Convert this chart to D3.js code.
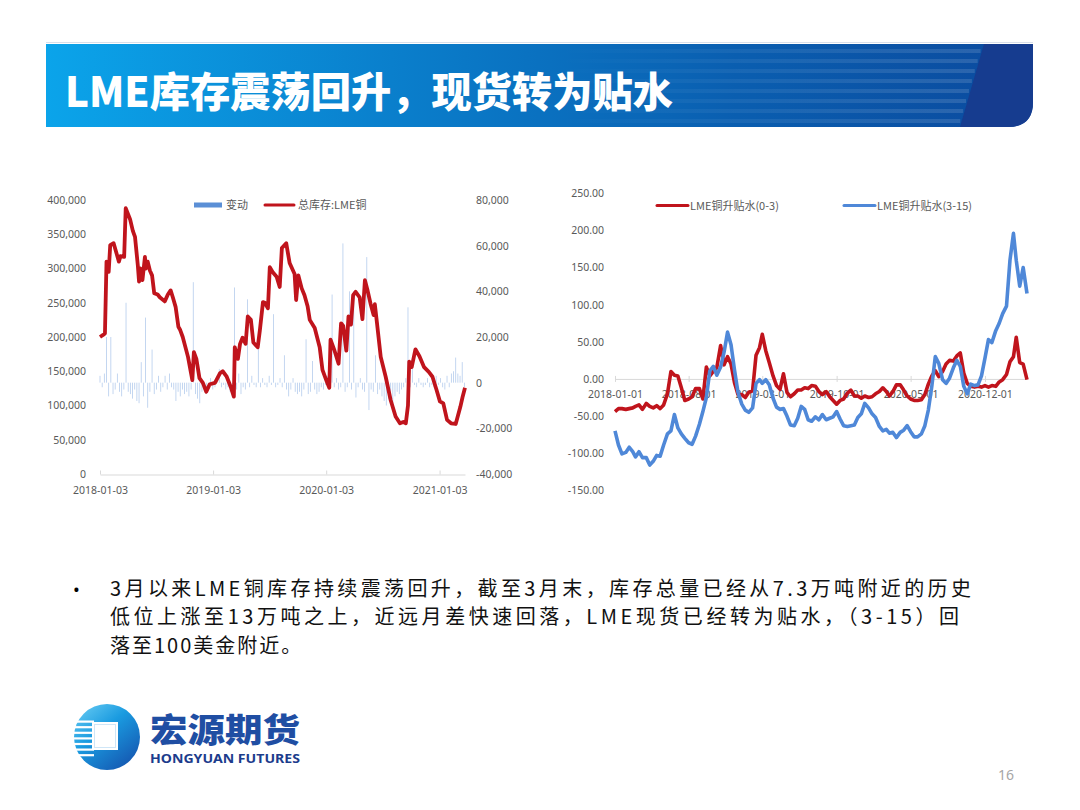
<!DOCTYPE html>
<html><head><meta charset="utf-8">
<script src="https://cdn.jsdelivr.net/npm/d3@7"></script>
<style>body{margin:0;background:#fff}svg{display:block}</style>
</head><body>
<svg id="s" width="1080" height="810"></svg>
<script>
// ---------------- DATA ----------------
const titleText = "LME库存震荡回升，现货转为贴水";
const leftLegend = ["变动", "总库存:LME铜"];
const rightLegend = ["LME铜升贴水(0-3)", "LME铜升贴水(3-15)"];
const invTicks = [0,50000,100000,150000,200000,250000,300000,350000,400000];
const chgTicks = [-40000,-20000,0,20000,40000,60000,80000];
const invXTicks = ["2018-01-03","2019-01-03","2020-01-03","2021-01-03"];
const spreadYTicks = [-150,-100,-50,0,50,100,150,200,250];
const spreadXTicks = ["2018-01-01","2018-08-01","2019-03-01","2019-10-01","2020-05-01","2020-12-01"];

// total stock LME copper (tonnes)
const invDates = ["2018-01-03","2018-01-13","2018-01-19","2018-01-24","2018-01-31","2018-02-05","2018-02-16","2018-03-05","2018-03-10","2018-03-22","2018-03-27","2018-04-03","2018-04-10","2018-04-19","2018-04-26","2018-05-05","2018-05-09","2018-05-13","2018-05-20","2018-05-28","2018-05-31","2018-06-06","2018-06-13","2018-06-20","2018-06-27","2018-07-08","2018-07-15","2018-07-31","2018-08-10","2018-08-19","2018-08-26","2018-09-04","2018-09-13","2018-09-18","2018-09-27","2018-10-14","2018-10-28","2018-11-02","2018-11-10","2018-11-20","2018-12-01","2018-12-12","2018-12-23","2019-01-09","2019-01-25","2019-02-03","2019-02-16","2019-03-01","2019-03-11","2019-03-14","2019-03-24","2019-03-31","2019-04-08","2019-04-18","2019-04-25","2019-05-05","2019-05-13","2019-05-27","2019-06-03","2019-06-13","2019-06-19","2019-06-29","2019-07-05","2019-07-14","2019-07-27","2019-08-06","2019-08-13","2019-08-27","2019-09-07","2019-09-23","2019-09-28","2019-10-05","2019-10-16","2019-10-25","2019-11-04","2019-11-11","2019-11-27","2019-12-13","2019-12-22","2020-01-04","2020-01-13","2020-01-17","2020-01-30","2020-02-12","2020-02-20","2020-02-27","2020-03-08","2020-03-15","2020-03-23","2020-03-30","2020-04-07","2020-04-20","2020-04-29","2020-05-07","2020-05-15","2020-05-25","2020-06-04","2020-06-08","2020-06-15","2020-06-27","2020-07-13","2020-07-29","2020-08-14","2020-08-28","2020-09-08","2020-09-16","2020-09-23","2020-09-27","2020-10-05","2020-10-17","2020-10-30","2020-11-14","2020-11-29","2020-12-11","2020-12-24","2021-01-04","2021-01-15","2021-01-27","2021-02-09","2021-02-24","2021-03-11","2021-03-18","2021-03-26"];
const invValues = [200000,203000,205000,310000,295000,334000,337000,310000,318000,317000,388000,380000,372000,355000,346000,305000,281000,300000,283000,317000,300000,310000,297000,290000,264000,262000,258000,252000,262000,268000,258000,244000,215000,211000,200000,171000,137000,178000,168000,140000,133000,120000,131000,133000,147000,150000,142000,127000,113000,185000,168000,190000,199000,190000,230000,225000,192000,185000,210000,251000,250000,242000,302000,295000,288000,273000,330000,337000,308000,292000,254000,290000,271000,261000,245000,225000,213000,185000,152000,136000,126000,196000,180000,161000,220000,216000,180000,230000,218000,261000,266000,258000,226000,283000,269000,249000,232000,248000,220000,171000,142000,108000,84000,74000,76000,74000,100000,164000,156000,182000,172000,156000,149000,142000,123000,106000,103000,79000,74000,73000,98000,112000,126000];

// weekly changes (tonnes)
const chgDates = ["2018-01-03","2018-01-10","2018-01-17","2018-01-24","2018-01-31","2018-02-07","2018-02-14","2018-02-21","2018-02-28","2018-03-07","2018-03-14","2018-03-21","2018-03-28","2018-04-04","2018-04-11","2018-04-18","2018-04-25","2018-05-02","2018-05-09","2018-05-16","2018-05-23","2018-05-30","2018-06-06","2018-06-13","2018-06-20","2018-06-27","2018-07-04","2018-07-11","2018-07-18","2018-07-25","2018-08-01","2018-08-08","2018-08-15","2018-08-22","2018-08-29","2018-09-05","2018-09-12","2018-09-19","2018-09-26","2018-10-03","2018-10-10","2018-10-17","2018-10-24","2018-10-31","2018-11-07","2018-11-14","2018-11-21","2018-11-28","2018-12-05","2018-12-12","2018-12-19","2018-12-26",
"2019-01-02","2019-01-09","2019-01-16","2019-01-23","2019-01-30","2019-02-06","2019-02-13","2019-02-20","2019-02-27","2019-03-06","2019-03-13","2019-03-20","2019-03-27","2019-04-03","2019-04-10","2019-04-17","2019-04-24","2019-05-01","2019-05-08","2019-05-15","2019-05-22","2019-05-29","2019-06-05","2019-06-12","2019-06-19","2019-06-26","2019-07-03","2019-07-10","2019-07-17","2019-07-24","2019-07-31","2019-08-07","2019-08-14","2019-08-21","2019-08-28","2019-09-04","2019-09-11","2019-09-18","2019-09-25","2019-10-02","2019-10-09","2019-10-16","2019-10-23","2019-10-30","2019-11-06","2019-11-13","2019-11-20","2019-11-27","2019-12-04","2019-12-11","2019-12-18","2019-12-25",
"2020-01-01","2020-01-08","2020-01-15","2020-01-22","2020-01-29","2020-02-05","2020-02-12","2020-02-19","2020-02-26","2020-03-04","2020-03-11","2020-03-18","2020-03-25","2020-04-01","2020-04-08","2020-04-15","2020-04-22","2020-04-29","2020-05-06","2020-05-13","2020-05-20","2020-05-27","2020-06-03","2020-06-10","2020-06-17","2020-06-24","2020-07-01","2020-07-08","2020-07-15","2020-07-22","2020-07-29","2020-08-05","2020-08-12","2020-08-19","2020-08-26","2020-09-02","2020-09-09","2020-09-16","2020-09-23","2020-09-30","2020-10-07","2020-10-14","2020-10-21","2020-10-28","2020-11-04","2020-11-11","2020-11-18","2020-11-25","2020-12-02","2020-12-09","2020-12-16","2020-12-23","2020-12-30",
"2021-01-06","2021-01-13","2021-01-20","2021-01-27","2021-02-03","2021-02-10","2021-02-17","2021-02-24","2021-03-03","2021-03-10","2021-03-17","2021-03-24"];
const chgValues = [3000,-2000,4000,20000,-6000,20000,-5000,-3000,4000,-4000,-6000,-3000,35000,-4000,-5000,-7000,-3000,-8000,-9000,9000,-6000,28500,-11000,-4000,14500,-5000,-3000,3000,-4000,-2000,3000,-3000,4000,-2000,-3000,-8000,-4000,-6000,-3000,-5000,-4000,-6000,-3000,44000,-5000,-7000,-9000,-4000,-3000,-5000,-2000,2000,
-3000,-2000,3000,6000,-2000,-1000,-3000,-2000,-4000,-2000,41700,-3000,4000,-5000,-2000,-3000,36500,-2000,3000,-1000,-2000,23000,-2000,2000,-1000,-2000,3000,-1000,30000,-2000,-1000,2000,-2000,12000,-3000,-6000,-3000,2000,-4000,-5000,-4000,-6000,-3000,19000,-5000,-4000,9500,-3000,-5000,-4000,-2000,-3000,
-1000,3000,-2000,38600,-2000,2000,-3000,-2000,61000,-4000,-2000,40000,-3000,40000,-6500,-2000,2000,-3000,-4000,55000,-12000,-3000,-4000,12000,-5000,-3000,-6000,-8000,-10000,-7000,-8000,-9000,-6000,-4000,-5000,-3000,-2000,2000,33000,-2000,7000,-1000,-2000,2000,-1000,-2000,-1000,2000,-2000,-1000,-2000,3000,-1000,
2000,-2000,-3000,3000,-2000,4000,5000,11000,4000,3000,9000,-2000];

// LME copper spreads (USD/t)
const spreadDates = ["2018-01-01","2018-01-11","2018-01-21","2018-02-01","2018-02-11","2018-02-21","2018-03-01","2018-03-11","2018-03-21","2018-04-01","2018-04-11","2018-04-21","2018-05-01","2018-05-11","2018-05-21","2018-06-01","2018-06-11","2018-06-21","2018-07-01","2018-07-11","2018-07-21","2018-08-01","2018-08-11","2018-08-21","2018-09-01","2018-09-11","2018-09-21","2018-10-01","2018-10-11","2018-10-21","2018-11-01","2018-11-11","2018-11-21","2018-12-01","2018-12-11","2018-12-21",
"2019-01-01","2019-01-11","2019-01-21","2019-02-01","2019-02-11","2019-02-21","2019-03-01","2019-03-11","2019-03-21","2019-04-01","2019-04-11","2019-04-21","2019-05-01","2019-05-11","2019-05-21","2019-06-01","2019-06-11","2019-06-21","2019-07-01","2019-07-11","2019-07-21","2019-08-01","2019-08-11","2019-08-21","2019-09-01","2019-09-11","2019-09-21","2019-10-01","2019-10-11","2019-10-21","2019-11-01","2019-11-11","2019-11-21","2019-12-01","2019-12-11","2019-12-21",
"2020-01-01","2020-01-11","2020-01-21","2020-02-01","2020-02-11","2020-02-21","2020-03-01","2020-03-11","2020-03-21","2020-04-01","2020-04-11","2020-04-21","2020-05-01","2020-05-11","2020-05-21","2020-06-01","2020-06-11","2020-06-21","2020-07-01","2020-07-11","2020-07-21","2020-08-01","2020-08-11","2020-08-21","2020-09-01","2020-09-11","2020-09-21","2020-10-01","2020-10-11","2020-10-21","2020-11-01","2020-11-11","2020-11-21","2020-12-01","2020-12-11","2020-12-21",
"2021-01-01","2021-01-11","2021-01-21","2021-02-01","2021-02-11","2021-02-21","2021-03-01","2021-03-11","2021-03-21","2021-04-01"];
const spread03 = [-44,-40,-40,-41,-40,-39,-37,-35,-41,-33,-37,-39,-36,-40,-35,-20,10,5,4,-12,-29,-27,-24,-13,-13,-27,16,4,10,15,45,19,30,20,-5,-21,
-21,-25,-18,-16,32,42,60,38,22,4,-9,-14,7,-18,-24,-20,-15,-15,-12,-13,-9,-10,-17,-21,-17,-24,-29,-34,-29,-27,-19,-15,-23,-23,-26,-23,
-25,-24,-20,-17,-12,-17,-23,-17,-8,-8,-15,-23,-27,-29,-29,-28,-21,-7,4,11,3,10,20,25,24,31,35,8,-6,-10,-11,-10,-11,-9,-11,-9,
-10,-4,-1,6,23,30,56,22,20,-1];
const spread315 = [-70,-89,-101,-99,-92,-98,-105,-98,-106,-106,-116,-111,-103,-104,-89,-74,-70,-48,-66,-74,-80,-86,-88,-77,-61,-44,-25,11,17,5,16,36,63,46,12,-18,
-34,-42,-45,-39,-6,-1,-6,-1,-8,-26,-38,-41,-40,-50,-62,-63,-53,-37,-41,-55,-57,-51,-55,-48,-55,-53,-51,-44,-54,-63,-64,-63,-62,-52,-47,-33,
-39,-47,-52,-64,-70,-68,-73,-72,-79,-72,-69,-63,-71,-78,-78,-74,-63,-42,-10,30,21,-1,-6,1,15,25,17,-10,-20,-7,-9,-8,4,28,53,49,
65,75,88,98,160,196,160,125,150,115];

const bulletLines = [
  "3月以来LME铜库存持续震荡回升，截至3月末，库存总量已经从7.3万吨附近的历史",
  "低位上涨至13万吨之上，近远月差快速回落，LME现货已经转为贴水，（3-15）回",
  "落至100美金附近。"
];

// ---------------- DRAW ----------------
const svg = d3.select("#s");
const parse = d3.timeParse("%Y-%m-%d");
const LAT = '"Noto Sans","Noto Sans CJK SC",sans-serif';
const CJK = '"Noto Sans CJK SC","Noto Sans",sans-serif';
const GRAY = "#595959";
const RED = "#c0141c", BLUE = "#4f88d8";
const minusFix = s => s.replace("\u2212", "-");

svg.append("rect").attr("width",1080).attr("height",810).attr("fill","#fff");
const defs = svg.append("defs");

// title bar
const tg = defs.append("linearGradient").attr("id","tg").attr("x1",0).attr("x2",1).attr("y1",0).attr("y2",0);
[[0,"#0ba4ea"],[0.35,"#0a7fcc"],[0.7,"#0a5eb0"],[1,"#0b4a9e"]].forEach(d=>tg.append("stop").attr("offset",d[0]).attr("stop-color",d[1]));
const sg = defs.append("linearGradient").attr("id","sg").attr("x1",0).attr("x2",1).attr("y1",0).attr("y2",0);
[[0,0],[0.35,0.05],[1,0.13]].forEach(d=>sg.append("stop").attr("offset",d[0]).attr("stop-color","#fff").attr("stop-opacity",d[1]));
svg.append("line").attr("x1",46).attr("x2",1033).attr("y1",42.5).attr("y2",42.5).attr("stroke","#d8dfea").attr("stroke-width",1);
svg.append("path").attr("d","M46,44H1033V102Q1033,127 1008,127H46Z").attr("fill","url(#tg)");
const bars = svg.append("g");
d3.range(0,8).forEach(i=>{
  const y = 49 + i*10;
  const xr = 982 - (y-44)*0.29;
  bars.append("rect").attr("x",560).attr("y",y).attr("width",xr-560).attr("height",4).attr("fill","url(#sg)");
});
svg.append("path").attr("d","M984,44H1033V102Q1033,127 1008,127H960Z").attr("fill","#163c8f");
svg.append("text").attr("x",65).attr("y",107).attr("font-family",CJK).attr("font-weight",900)
  .attr("font-size",41).attr("fill","#fff").attr("textLength",608).attr("lengthAdjust","spacingAndGlyphs").text(titleText);

// ---------- left chart ----------
const lx = d3.scaleTime().domain([parse("2018-01-03"), parse("2021-03-26")]).range([100,465]);
const ly = d3.scaleLinear().domain([0,400000]).range([474,200]);
const ry = d3.scaleLinear().domain([-40000,80000]).range([474,200]);
const L = svg.append("g");

// bars (changes)
L.append("g").selectAll("rect").data(chgDates.map((d,i)=>({d:parse(d),v:chgValues[i]})))
  .join("rect")
  .attr("x", d=>lx(d.d)-0.4).attr("width",0.8)
  .attr("y", d=>Math.min(ry(d.v), ry(0)))
  .attr("height", d=>Math.abs(ry(d.v)-ry(0)))
  .attr("fill","#5b8fd6").attr("opacity",0.45);

// x axis
const lxAxis = L.append("g").attr("transform","translate(0,474.5)")
  .call(d3.axisBottom(lx).tickValues(invXTicks.map(parse)).tickFormat(d3.timeFormat("%Y-%m-%d")).tickSize(-4).tickPadding(12).tickSizeOuter(0));
lxAxis.select(".domain").attr("stroke","#d9d9d9");
lxAxis.selectAll(".tick line").attr("stroke","#d9d9d9");
lxAxis.selectAll("text").attr("fill",GRAY).attr("font-size",10.5).attr("font-family",LAT);

// left y axis
const lyAxis = L.append("g").attr("transform","translate(100,0)")
  .call(d3.axisLeft(ly).tickValues(invTicks).tickFormat(v=>minusFix(d3.format(",")(v))).tickSize(0).tickPadding(14));
lyAxis.select(".domain").remove();
lyAxis.selectAll("text").attr("fill",GRAY).attr("font-size",10.5).attr("font-family",LAT);

// right y axis
const ryAxis = L.append("g").attr("transform","translate(465,0)")
  .call(d3.axisRight(ry).tickValues(chgTicks).tickFormat(v=>minusFix(d3.format(",")(v))).tickSize(0).tickPadding(11));
ryAxis.select(".domain").remove();
ryAxis.selectAll("text").attr("fill",GRAY).attr("font-size",10.5).attr("font-family",LAT);

// inventory line
L.append("path").datum(invDates.map((d,i)=>({d:parse(d),v:invValues[i]})))
  .attr("d", d3.line().x(d=>lx(d.d)).y(d=>ly(d.v)))
  .attr("fill","none").attr("stroke",RED).attr("stroke-width",3.8).attr("stroke-linejoin","round");

// left legend
L.append("rect").attr("x",194).attr("y",202.5).attr("width",28).attr("height",5).attr("fill","#5b8fd6");
L.append("text").attr("x",226).attr("y",209).attr("font-size",11).attr("font-family",CJK).attr("fill",GRAY).text(leftLegend[0]);
L.append("line").attr("x1",265).attr("x2",294).attr("y1",205).attr("y2",205).attr("stroke",RED).attr("stroke-width",3).attr("stroke-linecap","round");
L.append("text").attr("x",298).attr("y",209).attr("font-size",11).attr("font-family",CJK).attr("fill",GRAY).text(leftLegend[1]);

// ---------- right chart ----------
const sx = d3.scaleTime().domain([parse("2018-01-01"), parse("2021-04-01")]).range([615,1027]);
const sy = d3.scaleLinear().domain([-150,250]).range([490.3,193.3]);
const R = svg.append("g");

const syAxis = R.append("g").attr("transform","translate(615,0)")
  .call(d3.axisLeft(sy).tickValues(spreadYTicks).tickFormat(v=>minusFix(d3.format(".2f")(v))).tickSize(0).tickPadding(11));
syAxis.select(".domain").remove();
syAxis.selectAll("text").attr("fill",GRAY).attr("font-size",10.5).attr("font-family",LAT);

const sxAxis = R.append("g").attr("transform",`translate(0,${sy(0)})`)
  .call(d3.axisBottom(sx).tickValues(spreadXTicks.map(parse)).tickFormat(d3.timeFormat("%Y-%m-%d")).tickSize(3).tickPadding(9).tickSizeOuter(0));
sxAxis.select(".domain").attr("stroke","#d9d9d9");
sxAxis.selectAll(".tick line").attr("stroke","#d9d9d9").attr("y1",-3);
sxAxis.selectAll("text").attr("fill",GRAY).attr("font-size",10.5).attr("font-family",LAT);

const sline = d3.line().x(d=>sx(d.d)).y(d=>sy(d.v));
R.append("path").datum(spreadDates.map((d,i)=>({d:parse(d),v:spread03[i]})))
  .attr("d",sline).attr("fill","none").attr("stroke",RED).attr("stroke-width",3.6).attr("stroke-linejoin","round");
R.append("path").datum(spreadDates.map((d,i)=>({d:parse(d),v:spread315[i]})))
  .attr("d",sline).attr("fill","none").attr("stroke",BLUE).attr("stroke-width",3.6).attr("stroke-linejoin","round");

// right legend
R.append("line").attr("x1",657).attr("x2",688).attr("y1",205.5).attr("y2",205.5).attr("stroke",RED).attr("stroke-width",3).attr("stroke-linecap","round");
R.append("text").attr("x",690).attr("y",209.5).attr("font-size",11).attr("font-family",CJK).attr("fill",GRAY).text(rightLegend[0]);
R.append("line").attr("x1",844).attr("x2",875).attr("y1",205.5).attr("y2",205.5).attr("stroke",BLUE).attr("stroke-width",3).attr("stroke-linecap","round");
R.append("text").attr("x",877).attr("y",209.5).attr("font-size",11).attr("font-family",CJK).attr("fill",GRAY).text(rightLegend[1]);

// ---------- bullet text ----------
svg.append("text").attr("x",73).attr("y",596).attr("font-size",18).attr("font-family",LAT).attr("fill","#000").text("•");
const lens = [861, 849, null];
bulletLines.forEach((t,i)=>{
  const tx = svg.append("text").attr("x",110).attr("y",595.5+i*28.7).attr("font-size",20)
    .attr("font-family",CJK).attr("fill","#111").text(t);
  if (lens[i]) tx.attr("textLength",lens[i]).attr("lengthAdjust","spacing");
  else tx.attr("letter-spacing",2);
});

// ---------- logo ----------
const lg = defs.append("linearGradient").attr("id","lg").attr("x1",0).attr("y1",0).attr("x2",0.8).attr("y2",1);
[[0,"#6fd0f5"],[0.45,"#1a9be0"],[1,"#1556b0"]].forEach(d=>lg.append("stop").attr("offset",d[0]).attr("stop-color",d[1]));
const logo = svg.append("g");
logo.append("circle").attr("cx",107).attr("cy",737).attr("r",33).attr("fill","url(#lg)");
d3.range(0,7).forEach(i=>{
  const y = 720.5 + i*5.6;
  logo.append("rect").attr("x",70).attr("y",y).attr("width",24).attr("height",2.2).attr("fill","#fff");
});
logo.append("rect").attr("x",92).attr("y",722).attr("width",26).attr("height",28).attr("fill","#fff");
logo.append("rect").attr("x",94.5).attr("y",724.5).attr("width",21).attr("height",23).attr("fill","none").attr("stroke","#cfe6f7").attr("stroke-width",1);
logo.append("text").attr("x",150).attr("y",742).attr("font-size",33).attr("font-weight",900)
  .attr("font-family",CJK).attr("fill","#1f4ea3").attr("textLength",150).attr("lengthAdjust","spacingAndGlyphs").text("宏源期货");
logo.append("text").attr("x",150).attr("y",763).attr("font-size",12).attr("font-weight",700)
  .attr("font-family",'"Noto Sans",Roboto,sans-serif').attr("fill","#1c3c8c").attr("textLength",150).attr("lengthAdjust","spacingAndGlyphs").text("HONGYUAN FUTURES");

// page number
svg.append("text").attr("x",1006).attr("y",780).attr("text-anchor","middle").attr("font-size",14)
  .attr("font-family",LAT).attr("fill","#a6a6a6").text("16");
</script>
</body></html>
